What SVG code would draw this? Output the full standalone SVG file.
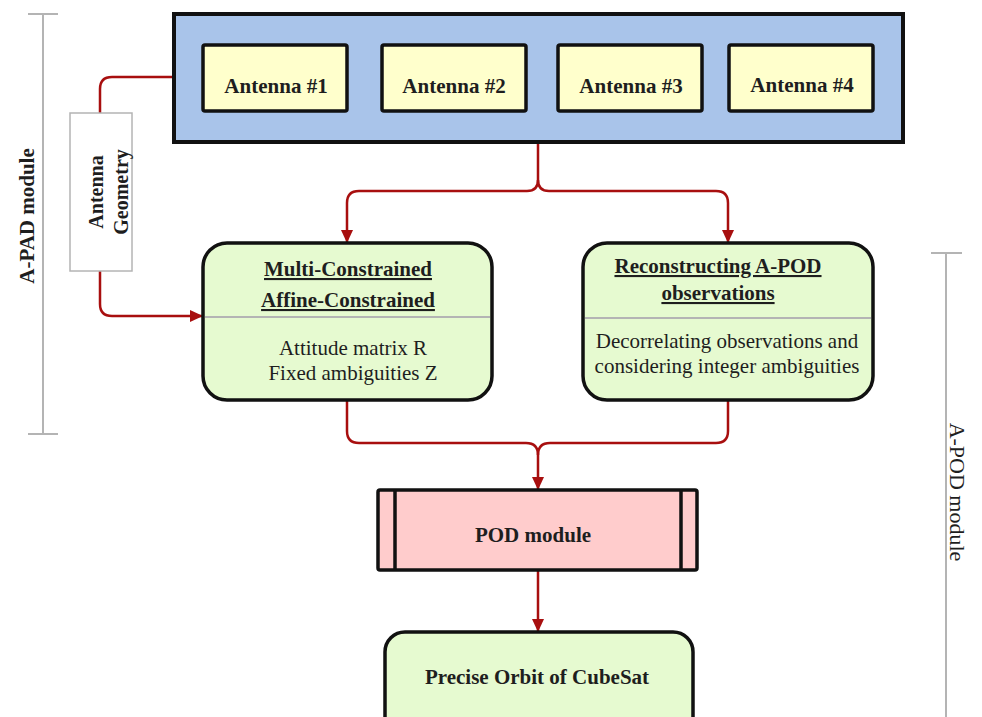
<svg xmlns="http://www.w3.org/2000/svg" width="982" height="717" viewBox="0 0 982 717">
<style>
text{font-family:"Liberation Serif","Times New Roman",serif;fill:#1e1e1e}
.b{font-weight:bold}
.ant{fill:#ffffcc;stroke:#111;stroke-width:3.5}
.grn{fill:#e6fad0;stroke:#111;stroke-width:3.5}
.con{fill:none;stroke:#a80f0f;stroke-width:2.5}
.brk{fill:none;stroke:#b4b4b4;stroke-width:2}
.div{stroke:#b4b4b4;stroke-width:2}
</style>
<defs>
<marker id="ah" markerUnits="userSpaceOnUse" markerWidth="14" markerHeight="14" refX="13" refY="7" orient="auto">
<path d="M0,1 L13,7 L0,13 z" fill="#a80f0f"/>
</marker>
</defs>
<g id="apad-bracket">
<line class="brk" x1="43" y1="14" x2="43" y2="434"/>
<line class="brk" x1="28" y1="14" x2="58" y2="14"/>
<line class="brk" x1="28" y1="434" x2="58" y2="434"/>
<text class="b" font-size="21" text-anchor="middle" transform="translate(34,216) rotate(-90)">A-PAD module</text>
</g>
<g id="apod-bracket">
<line class="brk" x1="946" y1="253" x2="946" y2="717"/>
<line class="brk" x1="931" y1="253" x2="962" y2="253"/>
<text font-size="22" text-anchor="middle" transform="translate(950,492) rotate(90)">A-POD module</text>
</g>
<g id="connectors">
<path class="con" d="M174,77 H112 Q100,77 100,89 V113"/>
<path class="con" marker-end="url(#ah)" d="M100,271 V304 Q100,316 112,316 H203"/>
<path class="con" d="M538,142 V180 Q538,191 527,191 H359 Q347,191 347,203 V243" marker-end="url(#ah)"/>
<path class="con" d="M538,180 Q538,191 549,191 H716 Q728,191 728,203 V243" marker-end="url(#ah)"/>
<path class="con" d="M347,400 V431 Q347,443 359,443 H526 Q538,443 538,455 V490" marker-end="url(#ah)"/>
<path class="con" d="M728,400 V431 Q728,443 716,443 H550 Q538,443 538,455"/>
<path class="con" d="M538,570 V632" marker-end="url(#ah)"/>
</g>
<g id="antenna-array">
<rect x="174" y="14" width="729" height="128" fill="#a9c4ea" stroke="#111" stroke-width="4"/>
</g>
<g id="antenna1">
<rect class="ant" x="203" y="45" width="144" height="66" rx="2"/>
<text class="b" font-size="21" x="276" y="93" text-anchor="middle">Antenna #1</text>
</g>
<g id="antenna2">
<rect class="ant" x="382" y="45" width="144" height="66" rx="2"/>
<text class="b" font-size="21" x="454" y="93" text-anchor="middle">Antenna #2</text>
</g>
<g id="antenna3">
<rect class="ant" x="558" y="45" width="144" height="66" rx="2"/>
<text class="b" font-size="21" x="631" y="93" text-anchor="middle">Antenna #3</text>
</g>
<g id="antenna4">
<rect class="ant" x="729" y="45" width="144" height="66" rx="2"/>
<text class="b" font-size="21" x="802" y="92" text-anchor="middle">Antenna #4</text>
</g>
<g id="antenna-geometry">
<rect x="70" y="113" width="62" height="158" fill="#fff" stroke="#b4b4b4" stroke-width="1.5"/>
<text class="b" font-size="20" text-anchor="middle" transform="translate(100,192) rotate(-90)"><tspan x="0" y="3">Antenna</tspan><tspan x="0" y="28">Geometry</tspan></text>
</g>
<g id="multi-constrained">
<rect class="grn" x="203" y="243" width="289" height="157" rx="24"/>
<line class="div" x1="205" y1="317" x2="490" y2="317"/>
<text class="b" font-size="21" x="348" y="276" text-anchor="middle" text-decoration="underline">Multi-Constrained</text>
<text class="b" font-size="21" x="348" y="307" text-anchor="middle" text-decoration="underline">Affine-Constrained</text>
<text font-size="21" x="353" y="355" text-anchor="middle">Attitude matrix R</text>
<text font-size="21" x="353" y="380" text-anchor="middle">Fixed ambiguities Z</text>
</g>
<g id="reconstructing">
<rect class="grn" x="583" y="243" width="290" height="157" rx="24"/>
<line class="div" x1="585" y1="318" x2="871" y2="318"/>
<text class="b" font-size="21" x="718" y="273" text-anchor="middle" text-decoration="underline">Reconstructing A-POD</text>
<text class="b" font-size="21" x="718" y="300" text-anchor="middle" text-decoration="underline">observations</text>
<text font-size="21" x="727" y="348" text-anchor="middle">Decorrelating observations and</text>
<text font-size="21" x="727" y="373" text-anchor="middle">considering integer ambiguities</text>
</g>
<g id="pod-module">
<rect x="378" y="490" width="319" height="80" fill="#ffcccc" stroke="#111" stroke-width="3.5" rx="2"/>
<line x1="395" y1="490" x2="395" y2="570" stroke="#111" stroke-width="3.5"/>
<line x1="681" y1="490" x2="681" y2="570" stroke="#111" stroke-width="3.5"/>
<text class="b" font-size="21" x="533" y="542" text-anchor="middle">POD module</text>
</g>
<g id="precise-orbit">
<rect class="grn" x="385" y="632" width="308" height="110" rx="20"/>
<text class="b" font-size="21" x="537" y="684" text-anchor="middle">Precise Orbit of CubeSat</text>
</g>
</svg>
